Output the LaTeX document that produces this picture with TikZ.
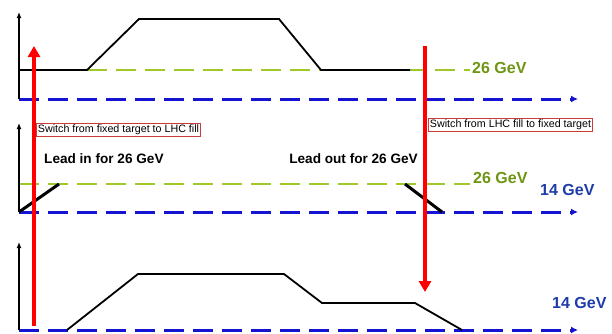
\documentclass[tikz,border=0pt]{standalone}
\usepackage{fontspec}
\setmainfont{Liberation Sans}
\usetikzlibrary{arrows.meta}
\definecolor{lgreen}{RGB}{160,200,40}
\definecolor{tgreen}{RGB}{110,150,20}
\definecolor{lblue}{RGB}{20,20,210}
\definecolor{tblue}{RGB}{30,60,170}
\definecolor{boxred}{RGB}{200,60,60}
\tikzset{
  axis/.style={black, line width=1.6pt, -{Latex[length=6pt,width=5pt]}},
  bluedash/.style={lblue, line width=3pt, dash pattern=on 20pt off 9pt, -{Latex[length=7pt,width=7pt]}},
  greendash/.style={lgreen, line width=2.6pt, dash pattern=on 20pt off 9pt},
  level/.style={black, line width=1.8pt},
  ramp/.style={black, line width=3pt},
  redarrow/.style={red, line width=4pt, -{Triangle[length=11pt,width=12pt]}},
  gev/.style={font=\bfseries\fontsize{16}{16}\selectfont, inner sep=0pt, anchor=west},
  lead/.style={font=\bfseries\fontsize{13.6}{14}\selectfont, inner sep=0pt, anchor=west},
  switchbox/.style={draw=boxred, line width=0.7pt, fill=white, font=\fontsize{10.7}{11}\selectfont, inner sep=1.6pt, anchor=west},
}
\begin{document}
\begin{tikzpicture}[x=1pt,y=-1pt]
\useasboundingbox[fill=white] (0,0) rectangle (612,333);
% ---------- panel 1 ----------
\coordinate (o1) at (19,99);
\coordinate (t1) at (19,12);
\coordinate (e1) at (578,99);
\draw[greendash] (87,70) -- (470,70);
\draw[bluedash] (o1) -- (e1);
\draw[axis] (o1) -- (t1);
\draw[level] (19,70) -- (87,70) -- (139,19) -- (279,19) -- (321,70) -- (410,70);
\node[gev, text=tgreen] (g1) at (472,68) {26 GeV};
% ---------- panel 2 ----------
\coordinate (o2) at (19,212);
\coordinate (t2) at (19,123);
\coordinate (e2) at (578,212);
\draw[greendash] (19,184) -- (470,184);
\draw[bluedash] (o2) -- (e2);
\draw[axis] (o2) -- (t2);
\draw[ramp] (o2) -- (59,184);
\draw[ramp] (405,184) -- (442,212);
\node[gev, text=tgreen] (g2) at (473,178) {26 GeV};
\node[gev, text=tblue] (b2) at (540,190) {14 GeV};
\node[lead] (li) at (44,159) {Lead in for 26 GeV};
\node[lead, anchor=east] (lo) at (418,159) {Lead out for 26 GeV};
% ---------- panel 3 ----------
\coordinate (o3) at (19,330);
\coordinate (t3) at (19,242);
\coordinate (e3) at (578,330);
\draw[bluedash] (o3) -- (e3);
\draw[axis] (o3) -- (t3);
\draw[level] (67,330) -- (138,274) -- (284,274) -- (322,303) -- (415,303) -- (462,330);
\node[gev, text=tblue] (b3) at (552,303) {14 GeV};
% ---------- switches ----------
\coordinate (ra) at (34,326);
\coordinate (rb) at (34,46);
\coordinate (rc) at (425,46);
\coordinate (rd) at (425,292);
\draw[redarrow] (ra) -- (rb);
\draw[redarrow] (rc) -- (rd);
\node[switchbox] (s1) at (36,130) {Switch from fixed target to LHC fill};
\node[switchbox] (s2) at (428,124.5) {Switch from LHC fill to fixed target};
\end{tikzpicture}
\end{document}
